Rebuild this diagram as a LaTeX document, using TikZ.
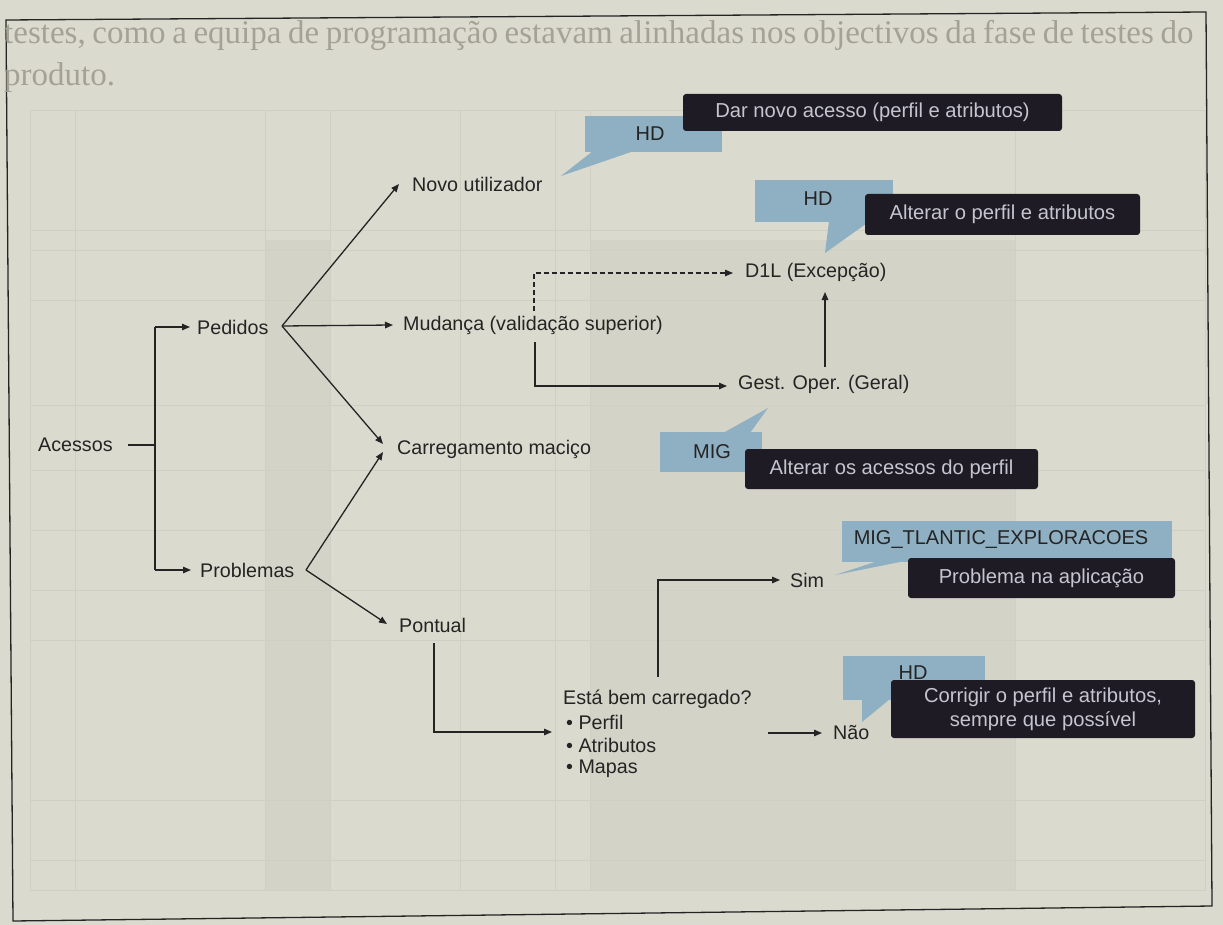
\documentclass[tikz,border=0pt]{standalone}
\usepackage{fontspec}
\setmainfont{Liberation Sans}
\newfontfamily\serifscan[WordSpace=0.8]{Liberation Serif}
\usetikzlibrary{arrows.meta}
\definecolor{paper}{HTML}{DBDACF}
\definecolor{ink}{HTML}{242424}
\definecolor{bubble}{HTML}{8FB0C3}
\definecolor{darkbox}{HTML}{1F1B24}
\definecolor{boxtext}{HTML}{C4C5CE}
\definecolor{faded}{HTML}{A4A297}
\definecolor{faint}{HTML}{D0CFC3}
\begin{document}
\begin{tikzpicture}[x=1pt,y=-1pt,
  lbl/.style={font=\fontsize{19.7}{23.5}\selectfont, text=ink, inner sep=0pt, anchor=west},
  conn/.style={draw=ink, line width=1.3pt},
  arr/.style={conn, -{Triangle[length=8pt,width=6.5pt]}},
  dashconn/.style={arr, dash pattern=on 5pt off 3pt},
  dbox/.style={fill=darkbox, rounded corners=3pt, text=boxtext, font=\fontsize{20.2}{24}\selectfont, align=center, inner sep=0pt},
  btxt/.style={text=ink, font=\fontsize{20}{23}\selectfont, inner sep=0pt},
  tbl/.style={draw=faint, line width=0.8pt}
]
\fill[paper] (0,0) rectangle (1223,925);
\useasboundingbox (0,0) rectangle (1223,925);

% faint background table
\fill[faint!60!paper] (265,240) rectangle (330,890);
\fill[faint!60!paper] (590,240) rectangle (1015,890);
\draw[tbl] (30,110) rectangle (1205,890);
\foreach \yy in {230,250,300,405,470,530,590,640,800,860} {\draw[tbl] (30,\yy) -- (1205,\yy);}
\foreach \xx in {75,265,330,460,555,590,1015} {\draw[tbl] (\xx,110) -- (\xx,890);}

% frame and faded text
\draw[ink, line width=1.3pt] (6,20) -- (1206,12) -- (1212,906) -- (13,921) -- cycle;
\node[anchor=west, inner sep=0pt, text=faded, font=\serifscan\fontsize{33}{38}\selectfont] (top1) at (4,35) {testes, como a equipa de programação estavam alinhadas nos objectivos da fase de testes do};
\node[anchor=west, inner sep=0pt, text=faded, font=\serifscan\fontsize{33}{38}\selectfont] (top2) at (4,78) {produto.};

% labels
\node[lbl] (acc) at (38,445) {Acessos};
\node[lbl] (ped) at (197,327) {Pedidos};
\node[lbl] (prob) at (200,570) {Problemas};
\node[lbl] (novo) at (412,184) {Novo utilizador};
\node[lbl] (mud) at (403,325) {Mudança (validação superior)};
\node[lbl] (carr) at (397,449) {Carregamento maciço};
\node[lbl] (pont) at (399,625) {Pontual};
\node[lbl] (d1l) at (745,272) {D1L (Excepção)};
\node[lbl] (gest) at (738,384) {Gest. Oper. (Geral)};
\node[lbl] (sim) at (790,580) {Sim};
\node[lbl] (nao) at (833,733) {Não};
\node[lbl] (esta) at (563,699) {Está bem carregado?};
\node[lbl] (b1) at (566,722) {• Perfil};
\node[lbl] (b2) at (566,745) {• Atributos};
\node[lbl] (b3) at (566,769) {• Mapas};

% connector points
\coordinate (accO) at (128,445);
\coordinate (accJ) at (155,445);
\coordinate (accT) at (155,327);
\coordinate (accB) at (155,570);
\coordinate (pedIn) at (190,327);
\coordinate (probIn) at (191,570);
\coordinate (pedO) at (282,326);
\coordinate (probO) at (306,570);
\coordinate (novoIn) at (399,184);
\coordinate (mudIn) at (393,325);
\coordinate (carrIn1) at (383,444);
\coordinate (carrIn2) at (383,452);
\coordinate (pontIn) at (387,624);
\coordinate (mudUp) at (534,311);
\coordinate (mudDn) at (535,342);
\coordinate (d1lIn) at (733,273);
\coordinate (gestIn) at (727,386);
\coordinate (gestUp) at (825,367);
\coordinate (d1lDn) at (825,292);
\coordinate (pontDn) at (434,643);
\coordinate (estaIn) at (552,732);
\coordinate (estaUp) at (658,677);
\coordinate (simIn) at (780,580);
\coordinate (naoO) at (768,733);
\coordinate (naoIn) at (822,733);

\draw[conn] (accO) -- (accJ);
\draw[conn] (accT) -- (accB);
\draw[arr] (accT) -- (pedIn);
\draw[arr] (accB) -- (probIn);
\draw[arr] (pedO) -- (novoIn);
\draw[arr] (pedO) -- (mudIn);
\draw[arr] (pedO) -- (carrIn1);
\draw[arr] (probO) -- (carrIn2);
\draw[arr] (probO) -- (pontIn);
\draw[dashconn] (mudUp) |- (d1lIn);
\draw[arr] (mudDn) |- (gestIn);
\draw[arr] (gestUp) -- (d1lDn);
\draw[arr] (pontDn) |- (estaIn);
\draw[arr] (estaUp) |- (simIn);
\draw[arr] (naoO) -- (naoIn);

% speech bubbles (blue)
\fill[bubble] (585,116) rectangle (722,152);
\fill[bubble] (593,151) -- (561,176) -- (634,151) -- cycle;
\node[btxt] (hd1) at (650,134) {HD};

\fill[bubble] (755,180) rectangle (893,222);
\fill[bubble] (829,221) -- (825,253) -- (870,221) -- cycle;
\node[btxt] (hd2) at (818,199) {HD};

\fill[bubble] (660,432) rectangle (762,472);
\fill[bubble] (723,433) -- (768,408) -- (750,433) -- cycle;
\node[btxt] (mig) at (712,452) {MIG};

\fill[bubble] (842,521) rectangle (1172,562);
\fill[bubble] (878,561) -- (835,575) -- (905,561) -- cycle;
\node[btxt] (migt) at (1001,540) {MIG\_TLANTIC\_EXPLORACOES};

\fill[bubble] (843,656) rectangle (985,700);
\fill[bubble] (862,699) -- (862,722) -- (890,699) -- cycle;
\node[btxt] (hd4) at (913,673) {HD};

% dark boxes
\node[dbox, minimum width=379pt, minimum height=37pt] (k1) at (872.5,112.5) {Dar novo acesso (perfil e atributos)};
\node[dbox, minimum width=275pt, minimum height=41pt] (k2) at (1002.5,214.5) {Alterar o perfil e atributos};
\node[dbox, minimum width=293pt, minimum height=40pt] (k3) at (891.5,469) {Alterar os acessos do perfil};
\node[dbox, minimum width=267pt, minimum height=40pt] (k4) at (1041.5,578) {Problema na aplicação};
\node[dbox, minimum width=304pt, minimum height=58pt] (k5) at (1043,709) {Corrigir o perfil e atributos,\\sempre que possível};
\end{tikzpicture}
\end{document}
